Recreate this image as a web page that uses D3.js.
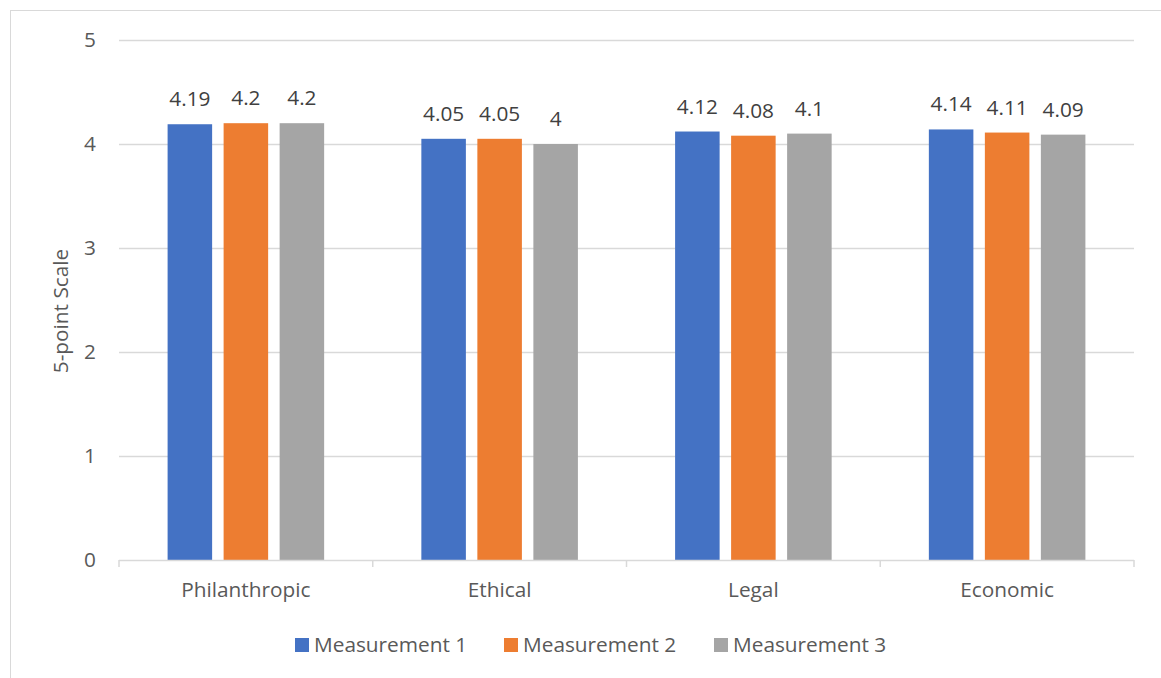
<!DOCTYPE html>
<html><head><meta charset="utf-8">
<script src="https://cdn.jsdelivr.net/npm/d3@7"></script>
<style>body{margin:0;background:#fff;} svg{display:block;}</style>
</head><body>
<svg id="chart" width="1161" height="678"></svg>
<script>
const categories = ["Philanthropic", "Ethical", "Legal", "Economic"];
const seriesNames = ["Measurement 1", "Measurement 2", "Measurement 3"];
const measurement1 = [4.19, 4.05, 4.12, 4.14];
const measurement2 = [4.2, 4.05, 4.08, 4.11];
const measurement3 = [4.2, 4, 4.1, 4.09];
const yTicks = [0, 1, 2, 3, 4, 5];
const colors = ["#4472C4", "#ED7D31", "#A5A5A5"];
const yTitle = "5-point Scale";

(function () {
const seriesValues = [measurement1, measurement2, measurement3];
const font = "'Open Sans', sans-serif";
const fs = 20.8;
const txt = "#595959";

const svg = d3.select("#chart");
svg.append("rect").attr("x", 10.5).attr("y", 10.5).attr("width", 1200).attr("height", 700)
  .attr("fill", "#fff").attr("stroke", "#D9D9D9").attr("stroke-width", 1);

const pl = 119, pr = 1134, pt = 40, pb = 560;
const y = d3.scaleLinear().domain([0, 5]).range([pb, pt]);
const x0 = d3.scaleBand().domain(categories).range([pl, pr]).padding(0);
const bw = x0.bandwidth();
const x1 = d3.scaleBand().domain(seriesNames).range([48.6, bw - 48.6]).paddingInner(0.205).paddingOuter(0);

svg.append("g").selectAll("line").data(yTicks.filter(d => d > 0)).join("line")
  .attr("x1", pl).attr("x2", pr)
  .attr("y1", d => Math.round(y(d)) + 0.5).attr("y2", d => Math.round(y(d)) + 0.5)
  .attr("stroke", "#D9D9D9").attr("stroke-width", 1.5);

svg.append("g").selectAll("text").data(yTicks).join("text")
  .attr("x", 96).attr("y", d => y(d)).attr("dy", "0.35em")
  .attr("text-anchor", "end").attr("font-family", font).attr("font-size", fs).attr("fill", txt)
  .text(d => d);

const groups = svg.append("g").selectAll("g").data(categories).join("g")
  .attr("transform", c => `translate(${x0(c)},0)`);
const rows = (c, i) => seriesNames.map((s, j) => ({s, v: seriesValues[j][i], j}));
groups.selectAll("rect").data(rows).join("rect")
  .attr("x", d => x1(d.s)).attr("width", x1.bandwidth())
  .attr("y", d => y(d.v)).attr("height", d => y(0) - y(d.v))
  .attr("fill", d => colors[d.j]);
groups.selectAll("text").data(rows).join("text")
  .attr("x", d => x1(d.s) + x1.bandwidth() / 2).attr("y", d => y(d.v) - 18)
  .attr("text-anchor", "middle").attr("font-family", font).attr("font-size", fs).attr("fill", "#404040")
  .text(d => d.v);

const xAxis = svg.append("g");
xAxis.append("line").attr("x1", pl).attr("x2", pr).attr("y1", pb + 0.5).attr("y2", pb + 0.5)
  .attr("stroke", "#D9D9D9").attr("stroke-width", 1.5);
const boundaries = categories.map(c => x0(c)).concat([pr]);
xAxis.selectAll("line.tick").data(boundaries).join("line").attr("class", "tick")
  .attr("x1", d => d).attr("x2", d => d).attr("y1", pb).attr("y2", pb + 7)
  .attr("stroke", "#D9D9D9").attr("stroke-width", 1.5);
xAxis.selectAll("text").data(categories).join("text")
  .attr("x", c => x0(c) + bw / 2).attr("y", 597)
  .attr("text-anchor", "middle").attr("font-family", font).attr("font-size", fs).attr("fill", txt)
  .text(c => c);

svg.append("text").attr("transform", "translate(68,311) rotate(-90)")
  .attr("text-anchor", "middle").attr("font-family", font).attr("font-size", fs).attr("fill", txt)
  .text(yTitle);

const legend = svg.append("g");
const legX = [295, 504, 714];
seriesNames.forEach((s, i) => {
  legend.append("rect").attr("x", legX[i]).attr("y", 638).attr("width", 14).attr("height", 14).attr("fill", colors[i]);
  legend.append("text").attr("x", legX[i] + 19).attr("y", 651.5)
    .attr("font-family", font).attr("font-size", fs).attr("fill", txt).text(s);
});
})();
</script>
</body></html>
